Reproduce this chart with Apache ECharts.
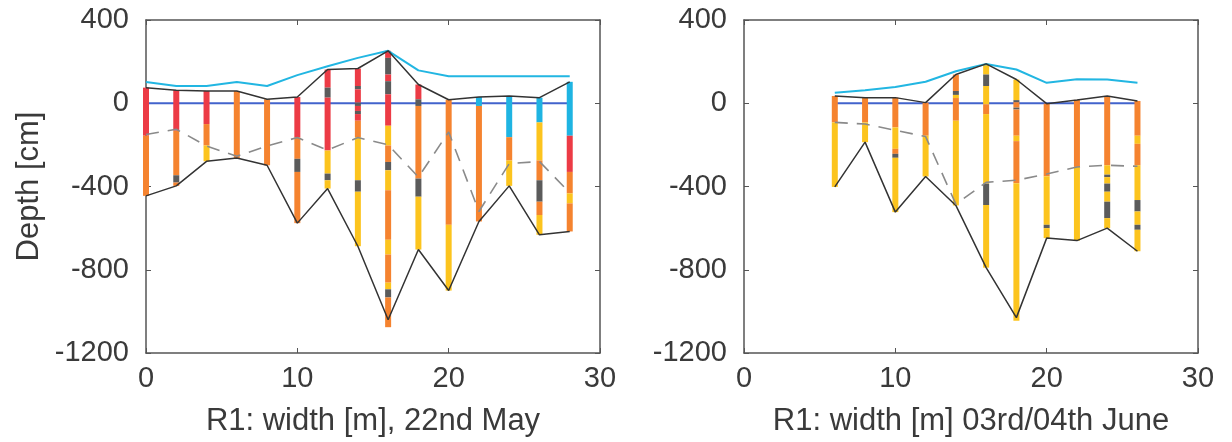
<!DOCTYPE html>
<html>
<head>
<meta charset="utf-8">
<script src="https://cdn.jsdelivr.net/npm/echarts@6/dist/echarts.min.js"></script>
<style>html,body{margin:0;padding:0;background:#fff}#c{width:1232px;height:442px}</style>
</head>
<body>
<div id="c"></div>
<script>
// ---------- data ----------
const xTicks = [0, 10, 20, 30];
const yTicks = [-1200, -800, -400, 0, 400];

// Panel 1: 22nd May
const mayX       = [0, 2, 4, 6, 8, 10, 12, 14, 16, 18, 20, 22, 24, 26, 28];
const maySurface = [75, 63, 59, 59, 19, 30, 162, 167, 252, 90, 17, 30, 35, 27, 103];
const mayBed     = [-445, -397, -279, -263, -298, -576, -410, -687, -1040, -703, -900, -568, -397, -632, -616];
const mayWater   = [102, 83, 83, 102, 83, 135, 178, 218, 252, 158, 130, 130, 130, 130, 130];
const mayDashed  = [-150, -125, -205, -255, -205, -165, -225, -165, -200, -355, -138, -520, -290, -280, -430];
// each core: x, top, code, boundary, code, boundary ...
const mayCores = [
  [0, 75, 'R', -156, 'O', -445],
  [2, 63, 'R', -132, 'O', -346, 'G', -381, 'O', -397],
  [4, 59, 'R', -100, 'O', -203, 'Y', -279],
  [6, 59, 'O', -263],
  [8, 19, 'O', -298],
  [10, 30, 'R', -163, 'O', -267, 'G', -330, 'O', -576],
  [12, 162, 'R', 75, 'G', 27, 'R', -227, 'Y', -338, 'G', -370, 'Y', -410],
  [14, 167, 'R', 83, 'G', 67, 'R', 3, 'G', -13, 'R', -37, 'G', -52, 'R', -84, 'O', -163, 'Y', -370, 'G', -425, 'Y', -687],
  [16, 252, 'R', 218, 'G', 138, 'R', 106, 'G', 43, 'R', -108, 'Y', -203, 'O', -282, 'G', -322, 'Y', -418, 'O', -656, 'Y', -727, 'O', -862, 'Y', -894, 'G', -933, 'O', -1076],
  [18, 90, 'R', 19, 'G', -13, 'O', -362, 'G', -449, 'Y', -703],
  [20, 17, 'O', -584, 'Y', -900],
  [22, 30, 'C', -13, 'O', -568],
  [24, 35, 'C', -163, 'O', -275, 'Y', -397],
  [26, 27, 'C', -92, 'Y', -275, 'O', -370, 'G', -473, 'O', -537, 'Y', -632],
  [28, 103, 'C', -156, 'R', -330, 'O', -433, 'Y', -481, 'O', -616]
];

// Panel 2: 03rd/04th June
const junX       = [6, 8, 10, 12, 14, 16, 18, 20, 22, 24, 26];
const junSurface = [35, 27, 27, 3, 138, 189, 114, -2, 16, 35, 11];
const junBed     = [-402, -187, -523, -352, -491, -790, -1030, -648, -660, -600, -711];
const junWater   = [51, 63, 78, 103, 154, 189, 162, 98, 115, 114, 98];
const junDashed  = [-92, -100, -130, -160, -485, -380, -370, -340, -306, -298, -303];
const junCores = [
  [6, 35, 'O', -92, 'Y', -402],
  [8, 27, 'O', -92, 'Y', -187],
  [10, 27, 'O', -116, 'Y', -219, 'O', -243, 'G', -262, 'Y', -523],
  [12, 3, 'O', -156, 'Y', -352],
  [14, 138, 'O', 59, 'G', 40, 'Y', 25, 'O', -84, 'Y', -491],
  [16, 189, 'Y', 138, 'G', 83, 'Y', -5, 'O', -52, 'Y', -386, 'G', -489, 'Y', -790],
  [18, 114, 'Y', 15, 'G', 5, 'O', -21, 'G', -30, 'O', -156, 'Y', -182, 'O', -384, 'Y', -1045],
  [20, -2, 'O', -351, 'Y', -584, 'G', -600, 'Y', -648],
  [22, 16, 'O', -306, 'Y', -660],
  [24, 35, 'O', -298, 'Y', -343, 'G', -355, 'Y', -386, 'G', -425, 'Y', -473, 'G', -552, 'Y', -600],
  [26, 11, 'O', -156, 'Y', -195, 'O', -298, 'Y', -465, 'G', -520, 'Y', -584, 'G', -608, 'Y', -711]
];

const xNames = ['R1: width [m], 22nd May', 'R1: width [m] 03rd/04th June'];
const yName = 'Depth [cm]';

// ---------- styling ----------
const layerColors = { R: '#ec3b45', O: '#f5832f', Y: '#fcc41e', G: '#5b5b5b', C: '#1fb4e2' };
const FONT = '"Liberation Sans", Arial, sans-serif';
const TXT = '#3a3a3a';
const AX = '#555555';
const TICK_FS = 29;
const NAME_FS = 31;

function coreSegments(cores) {
  const out = [];
  cores.forEach(c => {
    const x = c[0];
    let top = c[1];
    for (let i = 2; i < c.length; i += 2) {
      const code = c[i], bot = c[i + 1];
      out.push({ value: [x, top, bot], itemStyle: { color: layerColors[code] } });
      top = bot;
    }
  });
  return out;
}
function pairs(xs, ys) { return xs.map((x, i) => [x, ys[i]]); }
const plain = v => String(v);

const chart = echarts.init(document.getElementById('c'), null, { renderer: 'canvas' });

const grids = [
  { left: 146, top: 20, width: 454, height: 336 },
  { left: 744, top: 20, width: 454, height: 336 }
];

function xAxisMain(gi) {
  return {
    type: 'value', gridIndex: gi, min: xTicks[0], max: xTicks[xTicks.length - 1], interval: 10,
    name: xNames[gi], nameLocation: 'middle', nameGap: 53,
    nameTextStyle: { fontFamily: FONT, fontSize: NAME_FS, color: TXT },
    axisLine: { show: true, onZero: false, lineStyle: { color: AX, width: 1.5 } },
    axisTick: { show: true, inside: true, length: 5, lineStyle: { color: AX } },
    axisLabel: { fontFamily: FONT, fontSize: TICK_FS, color: TXT, margin: 11, formatter: plain },
    splitLine: { show: false }
  };
}
function xAxisTop(gi) {
  return {
    type: 'value', gridIndex: gi, min: 0, max: 30, interval: 10, position: 'top',
    axisLine: { show: true, onZero: false, lineStyle: { color: AX, width: 1.5 } },
    axisTick: { show: true, inside: true, length: 5, lineStyle: { color: AX } },
    axisLabel: { show: false }, splitLine: { show: false }
  };
}
function yAxisMain(gi) {
  const a = {
    type: 'value', gridIndex: gi, min: yTicks[0], max: yTicks[yTicks.length - 1], interval: 400,
    axisLine: { show: true, onZero: false, lineStyle: { color: AX, width: 1.5 } },
    axisTick: { show: true, inside: true, length: 5, lineStyle: { color: AX } },
    axisLabel: { fontFamily: FONT, fontSize: TICK_FS, color: TXT, margin: 17, formatter: plain },
    splitLine: { show: false }
  };
  if (gi === 0) {
    a.name = yName; a.nameLocation = 'middle'; a.nameGap = 101; a.nameRotate = 90;
    a.nameTextStyle = { fontFamily: FONT, fontSize: NAME_FS, color: TXT };
  }
  return a;
}
function yAxisRight(gi) {
  return {
    type: 'value', gridIndex: gi, min: -1200, max: 400, interval: 400, position: 'right',
    axisLine: { show: true, onZero: false, lineStyle: { color: AX, width: 1.5 } },
    axisTick: { show: true, inside: true, length: 5, lineStyle: { color: AX } },
    axisLabel: { show: false }, splitLine: { show: false }
  };
}

function panelSeries(gi, xs, surface, bed, water, dashed, cores) {
  const xi = gi * 2, yi = gi * 2;
  const base = { xAxisIndex: xi, yAxisIndex: yi, silent: true, animation: false };
  return [
    Object.assign({}, base, {
      type: 'line', name: 'zero', data: [[xs[0], 0], [xs[xs.length - 1], 0]],
      symbol: 'none', lineStyle: { color: '#4263cc', width: 2 }, z: 2
    }),
    Object.assign({}, base, {
      type: 'custom', name: 'cores', data: coreSegments(cores), z: 3,
      renderItem: function (params, api) {
        const x = api.value(0);
        const p1 = api.coord([x, api.value(1)]);
        const p2 = api.coord([x, api.value(2)]);
        return {
          type: 'rect',
          shape: { x: p1[0] - 3, y: p1[1], width: 6, height: p2[1] - p1[1] },
          style: { fill: api.visual('color') }
        };
      }
    }),
    Object.assign({}, base, {
      type: 'line', name: 'water', data: pairs(xs, water), symbol: 'none',
      lineStyle: { color: '#22b6e2', width: 2 }, z: 4
    }),
    Object.assign({}, base, {
      type: 'line', name: 'surface', data: pairs(xs, surface), symbol: 'none',
      lineStyle: { color: '#333333', width: 1.5 }, z: 5
    }),
    Object.assign({}, base, {
      type: 'line', name: 'bed', data: pairs(xs, bed), symbol: 'none',
      lineStyle: { color: '#333333', width: 1.5 }, z: 5
    }),
    Object.assign({}, base, {
      type: 'line', name: 'dashed', data: pairs(xs, dashed), symbol: 'none',
      lineStyle: { color: '#8a8a8a', width: 1.6, type: [13, 9] }, z: 6
    })
  ];
}

chart.setOption({
  backgroundColor: '#ffffff',
  animation: false,
  grid: grids,
  xAxis: [xAxisMain(0), xAxisTop(0), xAxisMain(1), xAxisTop(1)],
  yAxis: [yAxisMain(0), yAxisRight(0), yAxisMain(1), yAxisRight(1)],
  series: [].concat(
    panelSeries(0, mayX, maySurface, mayBed, mayWater, mayDashed, mayCores),
    panelSeries(1, junX, junSurface, junBed, junWater, junDashed, junCores)
  )
});
</script>
</body>
</html>
